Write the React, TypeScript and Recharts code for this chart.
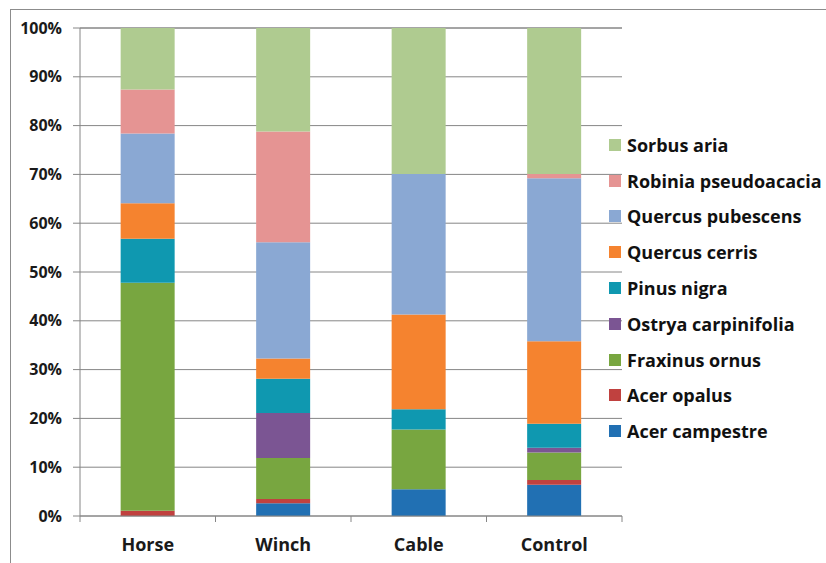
import React from 'react';
import { BarChart, Bar, XAxis, YAxis, CartesianGrid } from 'recharts';

const categories = ['Horse', 'Winch', 'Cable', 'Control'];

// species shares per site (%), bottom to top of the stack
const acerCampestre = [0, 2.6, 5.5, 6.4];
const acerOpalus = [1.1, 0.9, 0, 1.0];
const fraxinusOrnus = [46.7, 8.4, 12.2, 5.6];
const ostryaCarpinifolia = [0, 9.2, 0, 1.0];
const pinusNigra = [9.0, 7.0, 4.2, 4.9];
const quercusCerris = [7.3, 4.2, 19.4, 16.9];
const quercusPubescens = [14.3, 23.8, 28.8, 33.4];
const robiniaPseudoacacia = [9.0, 22.7, 0, 0.9];
const sorbusAria = [12.6, 21.2, 29.9, 29.9];

const yTicks = [0, 10, 20, 30, 40, 50, 60, 70, 80, 90, 100];

const series = [
  { key: 'Acer campestre', values: acerCampestre, color: '#2170b3' },
  { key: 'Acer opalus', values: acerOpalus, color: '#c0413f' },
  { key: 'Fraxinus ornus', values: fraxinusOrnus, color: '#78a640' },
  { key: 'Ostrya carpinifolia', values: ostryaCarpinifolia, color: '#7b5593' },
  { key: 'Pinus nigra', values: pinusNigra, color: '#0f98b0' },
  { key: 'Quercus cerris', values: quercusCerris, color: '#f5832f' },
  { key: 'Quercus pubescens', values: quercusPubescens, color: '#8aa8d3' },
  { key: 'Robinia pseudoacacia', values: robiniaPseudoacacia, color: '#e59493' },
  { key: 'Sorbus aria', values: sorbusAria, color: '#afcb90' },
];

const data = categories.map((name, i) => {
  const row: Record<string, string | number> = { name };
  series.forEach((s) => {
    row[s.key] = s.values[i];
  });
  return row;
});

const FONT = '"Open Sans", sans-serif';
const AXIS_COLOR = '#868686';

const WIDTH = 826;
const HEIGHT = 563;
const MARGIN = { top: 28, right: 204, bottom: 0, left: 0 };
const Y_AXIS_WIDTH = 80;
const X_AXIS_HEIGHT = 47;

// category label in the middle, Excel-style tick marks on band edges
const CategoryTick = (props: any) => {
  const { x, y, payload, index } = props;
  const band = (WIDTH - MARGIN.right - Y_AXIS_WIDTH) / categories.length;
  const half = band / 2;
  return (
    <g>
      <line x1={x - half} y1={y} x2={x - half} y2={y + 6} stroke={AXIS_COLOR} />
      {index === categories.length - 1 && (
        <line x1={x + half} y1={y} x2={x + half} y2={y + 6} stroke={AXIS_COLOR} />
      )}
      <text
        x={x}
        y={y + 35}
        textAnchor="middle"
        fontFamily={FONT}
        fontWeight={700}
        fontSize={18}
        fill="#1a1a1a"
      >
        {payload.value}
      </text>
    </g>
  );
};

const LegendList = () => (
  <div
    style={{
      position: 'absolute',
      left: 609,
      top: 127,
      fontFamily: FONT,
      fontWeight: 700,
      fontSize: 18,
      color: '#111',
    }}
  >
    {[...series].reverse().map((s) => (
      <div key={s.key} style={{ display: 'flex', alignItems: 'center', height: 35.8 }}>
        <span style={{ width: 12, height: 12, background: s.color, marginRight: 6, flexShrink: 0 }} />
        <span style={{ whiteSpace: 'nowrap' }}>{s.key}</span>
      </div>
    ))}
  </div>
);

export default function App() {
  return (
    <div style={{ position: 'absolute', left: 0, top: 0, width: WIDTH, height: HEIGHT, background: '#fff', overflow: 'hidden' }}>
      <div
        style={{
          position: 'absolute',
          left: 10,
          top: 9,
          width: WIDTH,
          height: HEIGHT,
          borderLeft: '1px solid #8c8c8c',
          borderTop: '1px solid #8c8c8c',
        }}
      />
      <div style={{ position: 'absolute', left: 0, top: 0 }}>
        <BarChart width={WIDTH} height={HEIGHT} data={data} margin={MARGIN} barCategoryGap="30%">
          <CartesianGrid vertical={false} stroke={AXIS_COLOR} strokeWidth={1} />
          <XAxis
            dataKey="name"
            axisLine={{ stroke: AXIS_COLOR }}
            tickLine={false}
            tickSize={0}
            tickMargin={0}
            tick={<CategoryTick />}
            interval={0}
            height={X_AXIS_HEIGHT}
          />
          <YAxis
            width={Y_AXIS_WIDTH}
            domain={[0, 100]}
            ticks={yTicks}
            interval={0}
            tickFormatter={(v: number) => `${v}%`}
            axisLine={{ stroke: AXIS_COLOR }}
            tickLine={{ stroke: AXIS_COLOR }}
            tickSize={7}
            tickMargin={11}
            tick={{ fontFamily: FONT, fontWeight: 700, fontSize: 16, fill: '#1a1a1a' }}
          />
          {series.map((s) => (
            <Bar key={s.key} dataKey={s.key} stackId="a" fill={s.color} isAnimationActive={false} />
          ))}
        </BarChart>
      </div>
      <LegendList />
    </div>
  );
}
